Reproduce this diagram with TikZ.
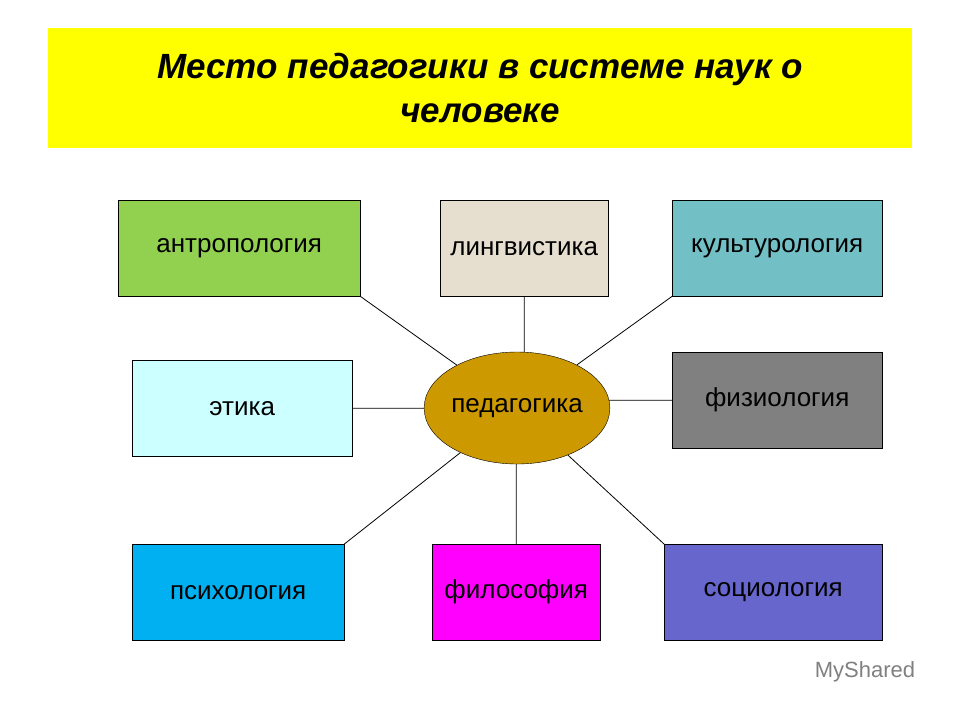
\documentclass[tikz,border=0pt]{standalone}
\usepackage{fontspec}
\setmainfont{Liberation Sans}
\usetikzlibrary{shapes.geometric}
\definecolor{ttl}{HTML}{FFFF00}
\definecolor{antr}{HTML}{92D050}
\definecolor{ling}{HTML}{E6DFD0}
\definecolor{kult}{HTML}{72BFC5}
\definecolor{etik}{HTML}{CCFFFF}
\definecolor{fiz}{HTML}{808080}
\definecolor{psih}{HTML}{00B0F0}
\definecolor{filo}{HTML}{FF00FF}
\definecolor{soc}{HTML}{6666CC}
\definecolor{ped}{HTML}{CC9900}

\begin{document}
\begin{tikzpicture}[x=1pt,y=-1pt,
  sci/.style={draw,anchor=north west,inner sep=0pt,
    font=\fontsize{26}{30}\selectfont},
  link/.style={draw,line width=0.8pt}]
  \useasboundingbox (0,0) rectangle (960,720);
  \fill[white] (0,0) rectangle (960,720);

  % title
  \node[fill=ttl,anchor=north west,minimum width=864pt,minimum height=120pt,
    align=center,
    font=\fontsize{35}{44}\selectfont\bfseries\itshape] (title) at (48,28)
    {Место педагогики в системе наук о\\ человеке};

  % sciences
  \node[sci,fill=antr,minimum width=242pt,minimum height=96pt] (antr) at (118,200) {антропология};
  \node[sci,fill=ling,minimum width=168pt,minimum height=96pt] (ling) at (440,200) {лингвистика};
  \node[sci,fill=kult,minimum width=210pt,minimum height=96pt] (kult) at (672,200) {культурология};
  \node[sci,fill=etik,minimum width=220pt,minimum height=96pt] (etik) at (132,360) {этика};
  \node[sci,fill=fiz,minimum width=210pt,minimum height=96pt] (fiz) at (672,352) {физиология};
  \node[sci,fill=psih,minimum width=212pt,minimum height=96pt] (psih) at (132,544) {психология};
  \node[sci,fill=filo,minimum width=168pt,minimum height=96pt] (filo) at (432,544) {философия};
  \node[sci,fill=soc,minimum width=218pt,minimum height=96pt] (soc) at (664,544) {социология};

  % centre
  \node[ellipse,draw,fill=ped,minimum width=184pt,minimum height=112pt,
    inner sep=0pt,font=\fontsize{26}{30}\selectfont] (pedag) at (517,408) {педагогика};

  \path[link] (antr.south east) -- (pedag)
              (ling.south) -- (ling.south |- pedag.north)
              (kult.south west) -- (pedag)
              (etik.east) -- (etik.east -| pedag.west)
              (fiz.west) -- ([xshift=-1pt]fiz.west -| pedag.east)
              (psih.north east) -- (pedag)
              (filo.north) -- (filo.north |- pedag.south)
              (soc.north west) -- (pedag);

  \node[text=gray,font=\fontsize{22}{24}\selectfont] (logo) at (865,672) {MyShared};
\end{tikzpicture}
\end{document}
